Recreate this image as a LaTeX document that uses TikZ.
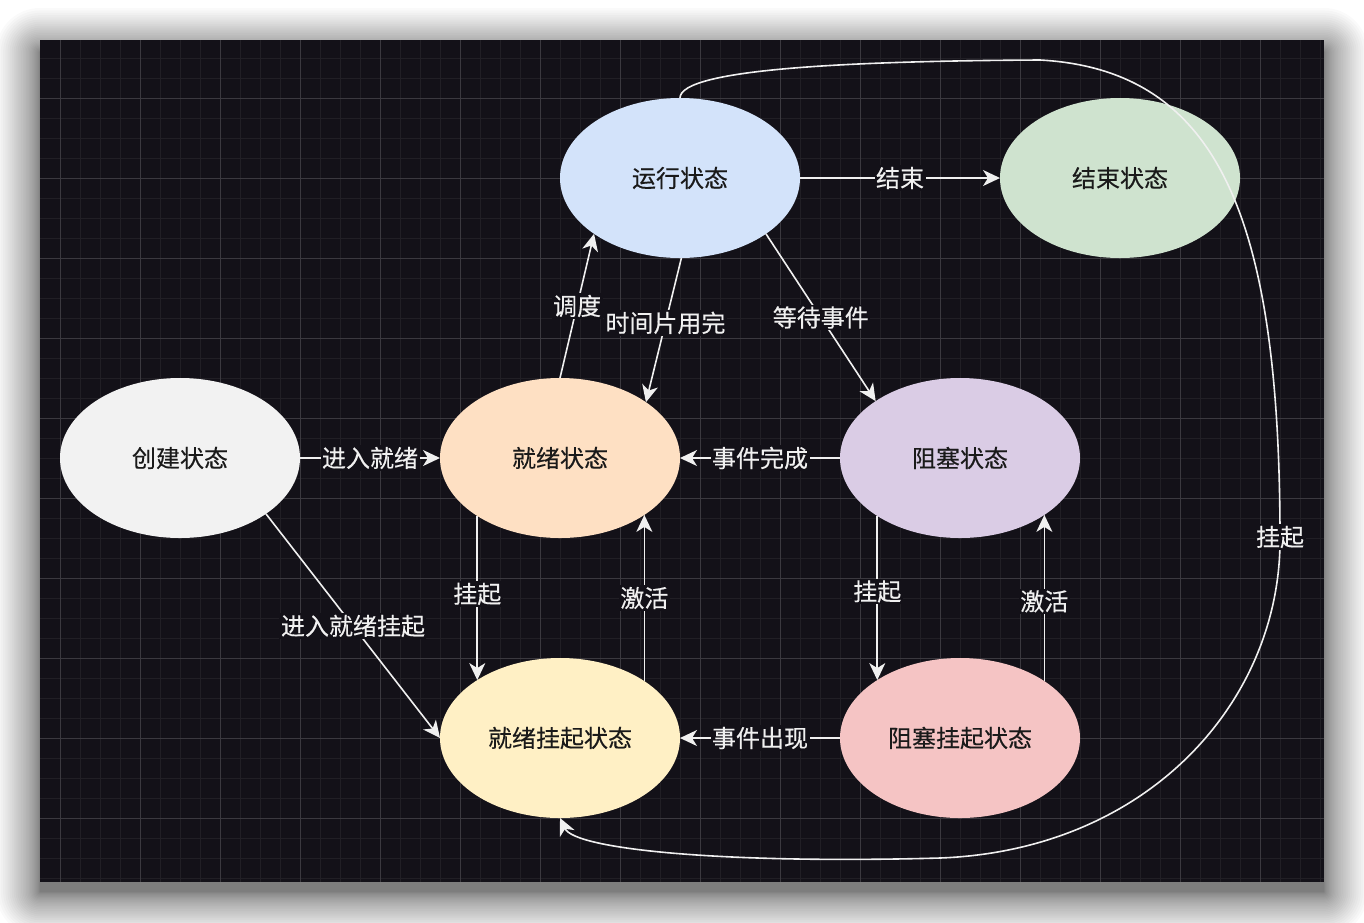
\documentclass[tikz,border=0pt]{standalone}
\usepackage{fontspec}
\setmainfont{Noto Sans CJK SC}[FakeBold=0.3]
\usetikzlibrary{arrows.meta,shapes.geometric}
\definecolor{bgdark}{HTML}{131118}
\definecolor{gridminor}{HTML}{211F25}
\definecolor{gridmajor}{HTML}{3B393F}
\definecolor{edgecol}{HTML}{F0F0F0}
\definecolor{txtdark}{HTML}{1A1A1A}
\definecolor{cRun}{HTML}{D3E3FA}
\definecolor{cEnd}{HTML}{CFE3CF}
\definecolor{cCreate}{HTML}{F2F2F2}
\definecolor{cReady}{HTML}{FEE0C3}
\definecolor{cBlock}{HTML}{DACCE5}
\definecolor{cRS}{HTML}{FFF0C5}
\definecolor{cBS}{HTML}{F5C4C4}
\tikzset{
  state/.style={ellipse, draw=none, minimum width=240pt, minimum height=160pt,
    inner sep=0pt, outer sep=0pt, text=txtdark, font=\fontsize{24pt}{27pt}\selectfont},
  conn/.style={draw=edgecol, line width=1.6pt,
    -{Stealth[length=17pt, width=16pt, inset=5pt]}},
  lbl/.style={fill=bgdark, text=edgecol, inner sep=1.5pt,
    font=\fontsize{24pt}{27pt}\selectfont},
}
\begin{document}
\begin{tikzpicture}[x=1pt, y=-1pt]
\useasboundingbox (0,0) rectangle (1364,922);
\fill[white] (0,0) rectangle (1364,922);
% shadow
\foreach \i in {1,...,32} {
  \pgfmathsetmacro\d{44*(\i/32)^1.8}
  \fill[black, opacity=0.021, rounded corners=\d pt]
    (40-\d, 52-\d) rectangle (1324+\d, 892+\d);
}
% dark canvas
\fill[bgdark] (40,40) rectangle (1324,882);
\begin{scope}
\clip (40,40) rectangle (1324,882);
\foreach \x in {60,80,...,1320} \draw[gridminor, line width=1pt] (\x,40) -- (\x,882);
\foreach \y in {58,78,...,878} \draw[gridminor, line width=1pt] (40,\y) -- (1324,\y);
\foreach \x in {60,140,...,1300} \draw[gridmajor, line width=1pt] (\x,40) -- (\x,882);
\foreach \y in {18,98,...,878} \draw[gridmajor, line width=1pt] (40,\y) -- (1324,\y);
\end{scope}

% states
\node[state, fill=cRun]    (run)    at (680,178) {运行状态};
\node[state, fill=cEnd]    (fin)    at (1120,178) {结束状态};
\node[state, fill=cCreate] (create) at (180,458) {创建状态};
\node[state, fill=cReady]  (ready)  at (560,458) {就绪状态};
\node[state, fill=cBlock]  (block)  at (960,458) {阻塞状态};
\node[state, fill=cRS]     (rs)     at (560,738) {就绪挂起状态};
\node[state, fill=cBS]     (bs)     at (960,738) {阻塞挂起状态};

% connectors
\draw[conn] (run.east) -- node[lbl]{结束} (fin.west);
\draw[conn] (ready.north) -- node[lbl]{调度} (run.-147);
\draw[conn] (run.-89) -- node[lbl, pos=0.45]{时间片用完} (ready.33);
\draw[conn] (run.-33.2) -- node[lbl]{等待事件} (block.146.6);
\draw[conn] (create.east) -- node[lbl]{进入就绪} (ready.west);
\draw[conn] (block.west) -- node[lbl]{事件完成} (ready.east);
\draw[conn] (create.-33.8) -- node[lbl]{进入就绪挂起} (rs.west);
\draw[conn] (ready.-145.4) -- node[lbl, pos=0.475]{挂起} (rs.145.4);
\draw[conn] (rs.34.6) -- node[lbl, pos=0.5]{激活} (ready.-34.6);
\draw[conn] (block.-145.4) -- node[lbl, pos=0.46]{挂起} (bs.145.4);
\draw[conn] (bs.34.6) -- node[lbl, pos=0.48]{激活} (block.-34.6);
\draw[conn] (bs.west) -- node[lbl]{事件出现} (rs.east);

% long curved connector
\coordinate (w1) at (1040,60);
\coordinate (w2) at (1280,540);
\coordinate (w3) at (940,858);
\draw[conn] (run.north) .. controls (680,68) and (860,61) .. (w1)
  .. controls (1220,70) and (1280,220) .. (w2) node[lbl, yshift=3pt]{挂起}
  .. controls (1280,700) and (1150,850) .. (w3)
  .. controls (730,864) and (575,850) .. (rs.south);
\end{tikzpicture}
\end{document}
